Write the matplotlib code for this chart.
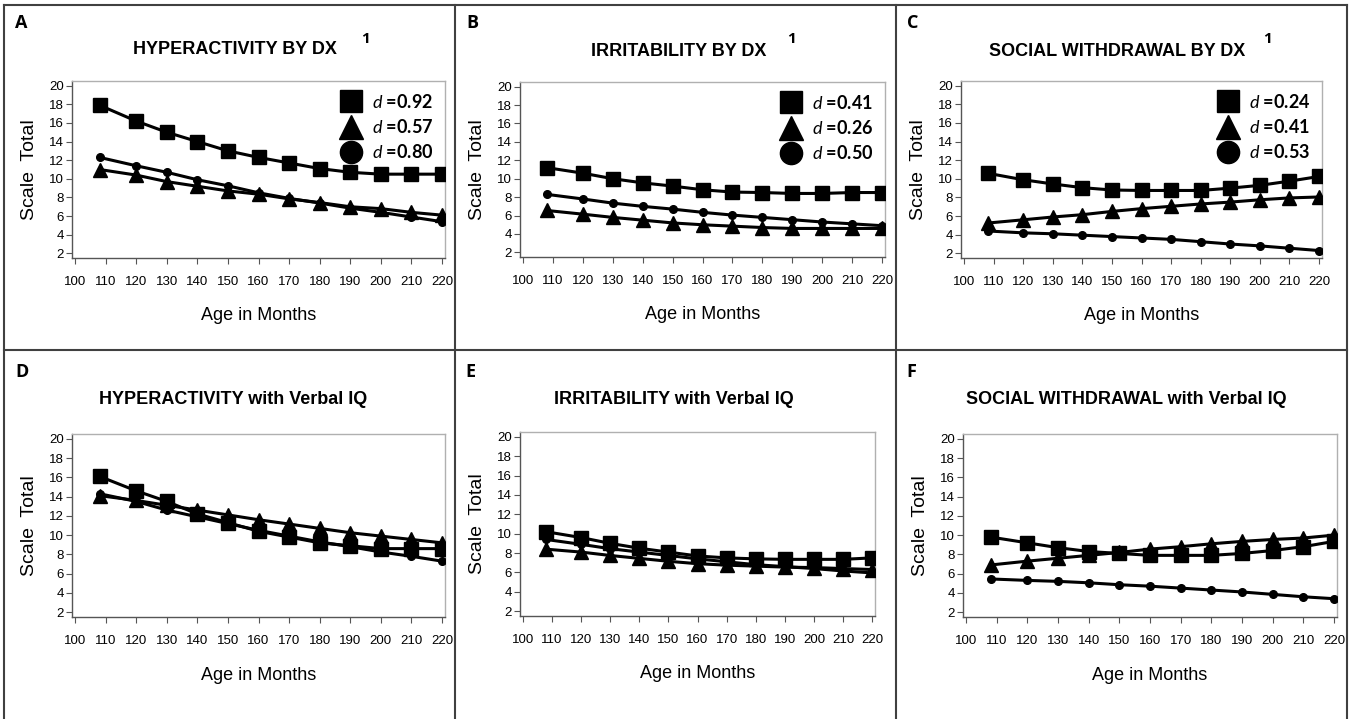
import matplotlib
matplotlib.use("Agg")
from matplotlib import pyplot as plt
from matplotlib.lines import Line2D

plt.rcParams['mathtext.fontset'] = 'custom'
plt.rcParams['mathtext.it'] = 'Lato:italic'
plt.rcParams['mathtext.rm'] = 'Lato'

W, H = 1355, 719

ages = [108, 120, 130, 140, 150, 160, 170, 180, 190, 200, 210, 220]
x_ticks = [100, 110, 120, 130, 140, 150, 160, 170, 180, 190, 200, 210, 220]
y_ticks = [2, 4, 6, 8, 10, 12, 14, 16, 18, 20]

# A: hyperactivity by dx
hyp_dx_sq = [17.9, 16.2, 15.0, 14.0, 13.0, 12.3, 11.7, 11.1, 10.7, 10.5, 10.5, 10.5]
hyp_dx_tri = [11.0, 10.4, 9.7, 9.2, 8.7, 8.35, 7.85, 7.45, 7.0, 6.8, 6.4, 6.1]
hyp_dx_cir = [12.3, 11.4, 10.7, 9.9, 9.25, 8.5, 7.9, 7.4, 6.85, 6.4, 5.9, 5.4]
# B: irritability by dx
irr_dx_sq = [11.2, 10.6, 10.0, 9.55, 9.2, 8.8, 8.55, 8.5, 8.4, 8.4, 8.5, 8.5]
irr_dx_tri = [6.55, 6.15, 5.8, 5.5, 5.2, 5.0, 4.85, 4.7, 4.6, 4.6, 4.6, 4.6]
irr_dx_cir = [8.3, 7.8, 7.35, 7.0, 6.7, 6.35, 6.05, 5.8, 5.55, 5.3, 5.1, 4.9]
# C: social withdrawal by dx
soc_dx_sq = [10.6, 9.9, 9.45, 9.05, 8.8, 8.75, 8.75, 8.75, 9.0, 9.3, 9.75, 10.25]
soc_dx_tri = [5.25, 5.6, 5.9, 6.15, 6.5, 6.8, 7.05, 7.3, 7.5, 7.75, 7.95, 8.05]
soc_dx_cir = [4.4, 4.2, 4.1, 3.95, 3.8, 3.65, 3.5, 3.25, 3.0, 2.8, 2.55, 2.3]
# D: hyperactivity with verbal IQ
hyp_iq_sq = [16.1, 14.6, 13.5, 12.2, 11.3, 10.4, 9.8, 9.2, 8.9, 8.6, 8.6, 8.6]
hyp_iq_tri = [14.1, 13.6, 13.1, 12.6, 12.1, 11.6, 11.15, 10.7, 10.25, 9.9, 9.55, 9.2]
hyp_iq_cir = [14.3, 13.5, 12.6, 11.9, 11.2, 10.5, 9.9, 9.3, 8.8, 8.25, 7.8, 7.3]
# E: irritability with verbal IQ
irr_iq_sq = [10.2, 9.6, 9.0, 8.5, 8.1, 7.7, 7.5, 7.4, 7.35, 7.35, 7.35, 7.5]
irr_iq_tri = [8.4, 8.1, 7.75, 7.45, 7.15, 6.9, 6.75, 6.65, 6.55, 6.5, 6.4, 6.3]
irr_iq_cir = [9.4, 8.9, 8.45, 8.1, 7.75, 7.4, 7.1, 6.8, 6.6, 6.4, 6.15, 5.95]
# F: social withdrawal with verbal IQ
soc_iq_sq = [9.8, 9.2, 8.7, 8.3, 8.1, 7.9, 7.9, 7.9, 8.1, 8.4, 8.8, 9.35]
soc_iq_tri = [6.9, 7.3, 7.6, 7.9, 8.2, 8.55, 8.8, 9.1, 9.35, 9.55, 9.7, 10.0]
soc_iq_cir = [5.45, 5.3, 5.2, 5.05, 4.85, 4.7, 4.5, 4.3, 4.1, 3.85, 3.6, 3.4]

letters = ['A', 'B', 'C', 'D', 'E', 'F']
titles = ['HYPERACTIVITY BY DX', 'IRRITABILITY BY DX', 'SOCIAL WITHDRAWAL BY DX',
          'HYPERACTIVITY with Verbal IQ', 'IRRITABILITY with Verbal IQ',
          'SOCIAL WITHDRAWAL with Verbal IQ']
d_labels = [['0.92', '0.57', '0.80'], ['0.41', '0.26', '0.50'], ['0.24', '0.41', '0.53'],
            None, None, None]
series = [(hyp_dx_sq, hyp_dx_tri, hyp_dx_cir), (irr_dx_sq, irr_dx_tri, irr_dx_cir),
          (soc_dx_sq, soc_dx_tri, soc_dx_cir), (hyp_iq_sq, hyp_iq_tri, hyp_iq_cir),
          (irr_iq_sq, irr_iq_tri, irr_iq_cir), (soc_iq_sq, soc_iq_tri, soc_iq_cir)]

# pixel boxes (left, top, right, bottom) of each plot frame
frames = [(72, 81, 445, 258), (520, 82, 885, 257), (961, 81, 1322, 258),
          (72, 434, 445, 617), (520, 432, 875, 616), (963, 434, 1337, 617)]
title_pos = [(235, 50), (679, 51), (1117, 51), (233, 400), (674, 400), (1126, 400)]
letter_pos = [(15, 23), (466, 23), (907, 23), (15, 372), (465, 372), (906, 372)]
sup_pos = [(365, 39), (792, 39), (1267, 39)]

fig = plt.figure(figsize=(W / 100, H / 100), dpi=100)

def fx(px):
    return px / W

def fy(py):
    return 1 - py / H

for i in range(6):
    l, t, r, b = frames[i]
    ax = fig.add_axes([fx(l), fy(b), (r - l) / W, (b - t) / H])
    sq, tri, cir = series[i]
    ax.plot(ages, sq, color='black', lw=2.2, marker='s', ms=9.5, zorder=3)
    ax.plot(ages, tri, color='black', lw=2.2, marker='^', ms=10, zorder=3)
    ax.plot(ages, cir, color='black', lw=2.2, marker='o', ms=5.5, zorder=3)
    ax.set_xlim(99, 221)
    ax.set_ylim(1.5, 20.5)
    ax.set_xticks(x_ticks)
    ax.set_yticks(y_ticks)
    for s in ['top', 'right']:
        ax.spines[s].set_color('#b0b0b0')
        ax.spines[s].set_linewidth(1.0)
    for s in ['left', 'bottom']:
        ax.spines[s].set_color('#555555')
        ax.spines[s].set_linewidth(1.0)
    ax.tick_params(direction='out', length=4, width=0.8, color='#555555', labelsize=9.5)
    ax.tick_params(axis='x', pad=9)
    ax.tick_params(axis='y', pad=2)
    for lab in ax.get_xticklabels() + ax.get_yticklabels():
        lab.set_family('Liberation Sans')
    ax.set_xlabel('Age in Months', fontsize=13, family='Liberation Sans', labelpad=14)
    ax.set_ylabel('Scale  Total', fontsize=14, family='Liberation Sans', labelpad=8)

    if d_labels[i] is not None:
        handles = [Line2D([], [], ls='none', marker=m, color='black', ms=ms)
                   for m, ms in [('s', 16), ('^', 17), ('o', 16)]]
        labels = [r'$d$ =' + v for v in d_labels[i]]
        ax.legend(handles, labels, loc='upper right', frameon=False,
                  prop=dict(family='Lato', weight='bold', size=13),
                  handlelength=1.2, handletextpad=0.55, labelspacing=0.4,
                  borderaxespad=0.35, borderpad=0.3)

    fig.text(fx(title_pos[i][0]), fy(title_pos[i][1]), titles[i], ha='center', va='center',
             fontsize=13, fontweight='bold', family='Liberation Sans')
    fig.text(fx(letter_pos[i][0]), fy(letter_pos[i][1]), letters[i], ha='left', va='center',
             fontsize=13, fontweight='bold', family='Open Sans')
    if i < 3:
        fig.text(fx(sup_pos[i][0]), fy(sup_pos[i][1]), '1', ha='center', va='center',
                 fontsize=11, fontweight='bold', family='Open Sans')

# panel borders
border = dict(color='#404040', lw=1.5)
fig.add_artist(Line2D([fx(4), fx(1347)], [fy(5), fy(5)], **border))
fig.add_artist(Line2D([fx(4), fx(1347)], [fy(350), fy(350)], **border))
for xp in [4, 455, 896, 1347]:
    fig.add_artist(Line2D([fx(xp), fx(xp)], [fy(5), fy(719)], **border))

fig.savefig('out.png', dpi=100)
